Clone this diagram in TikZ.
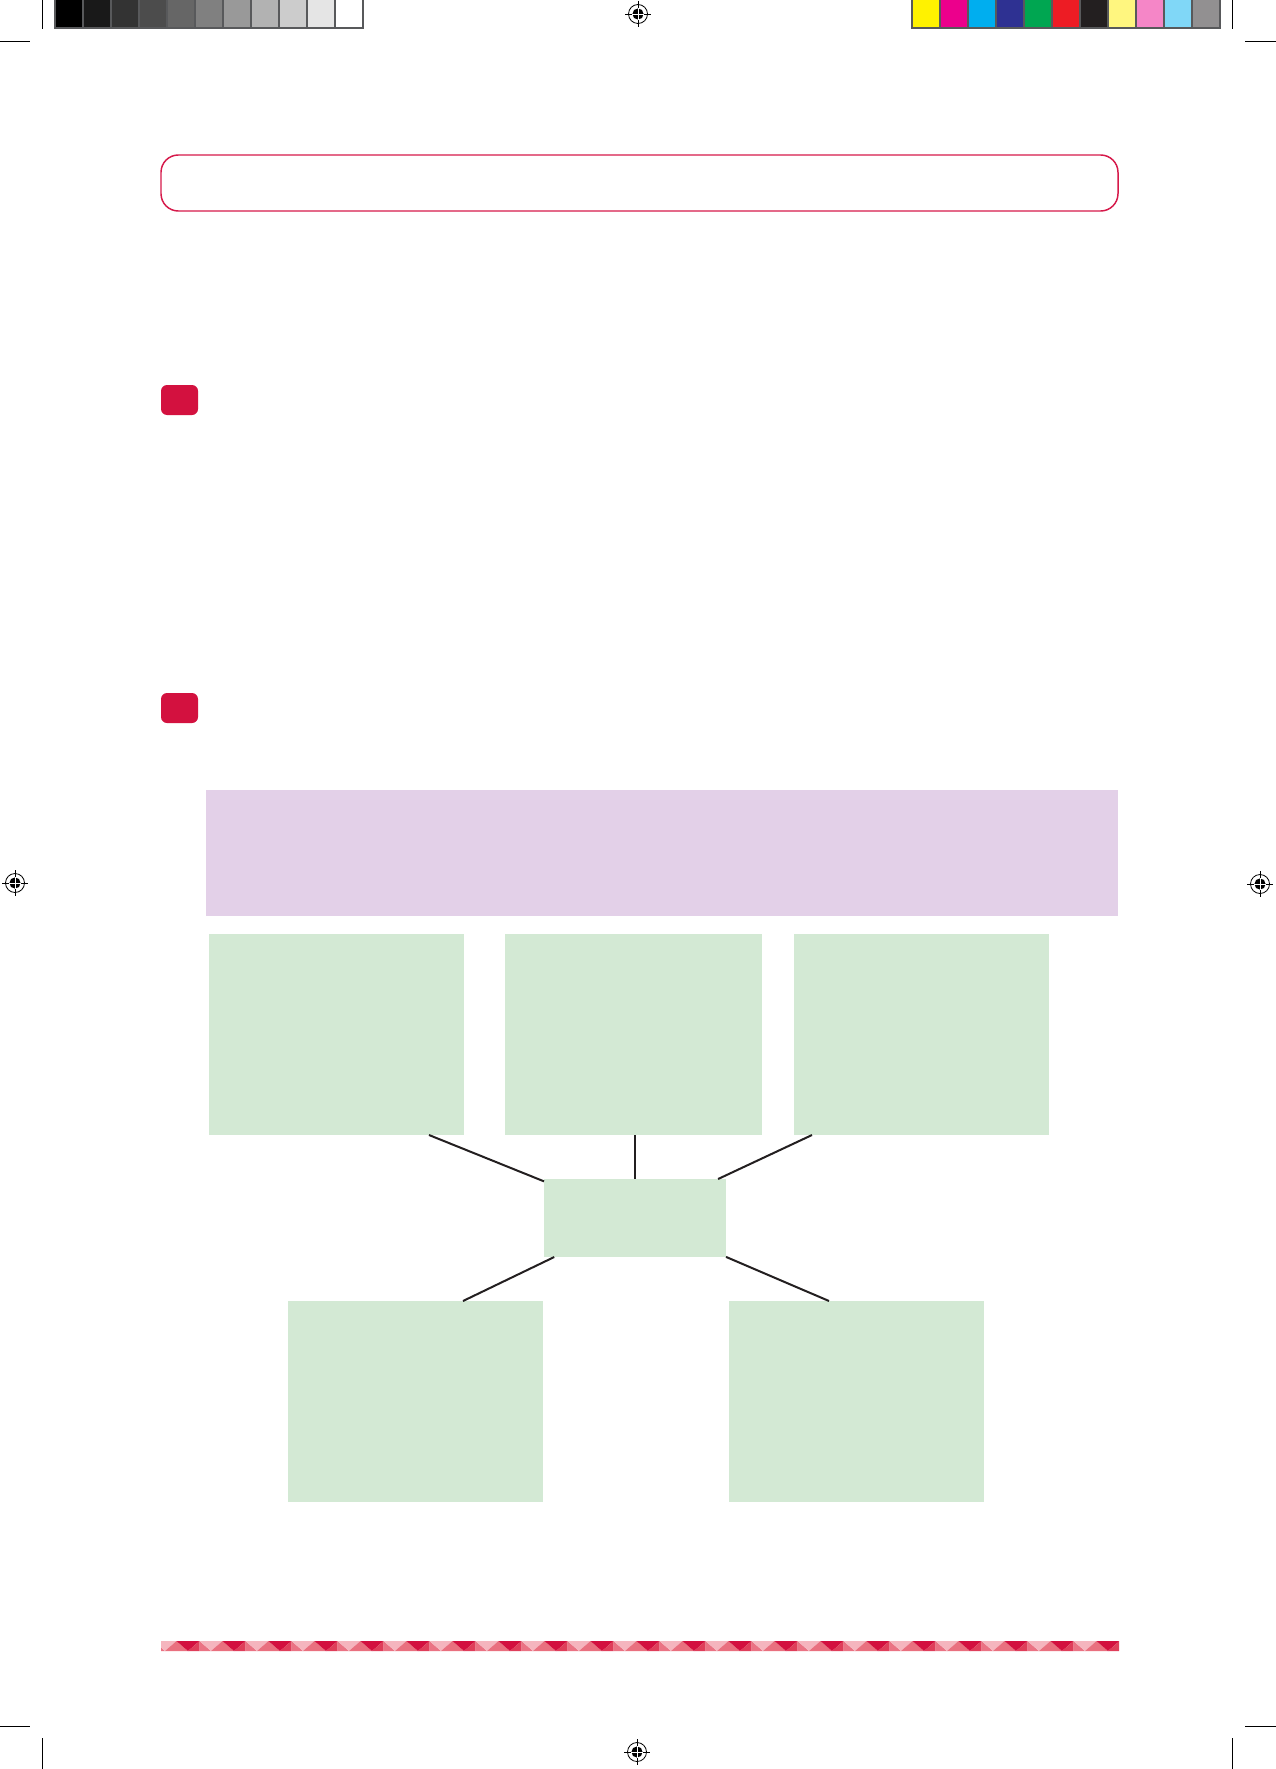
\documentclass[tikz,border=0pt]{standalone}
\usetikzlibrary{calc}
\definecolor{crim}{HTML}{D6194A}
\definecolor{crimfill}{HTML}{D3113F}
\definecolor{lgreen}{HTML}{D3E9D4}
\definecolor{lpurple}{HTML}{E3D0E8}
\definecolor{connc}{HTML}{231F20}
\definecolor{barframe}{HTML}{58595B}
\definecolor{zA}{HTML}{F5B5BE}
\definecolor{zB}{HTML}{E9707F}
\definecolor{zC}{HTML}{D3103F}
\definecolor{zD}{HTML}{DF3E5A}
\definecolor{zE}{HTML}{EA7384}
\tikzset{
  gbox/.style 2 args={fill=lgreen, draw=none, minimum width={#1*0.75pt}, minimum height={#2*0.75pt}, anchor=north west, inner sep=0pt, outer sep=0pt},
  conn/.style={draw=connc, line width=1.5pt},
  cropmark/.style={draw=black, line width=0.75pt},
  regmark/.pic={
    \draw[line width=0.6pt] (0,0) circle (9.5);
    \draw[line width=0.6pt] (-13,0) -- (13,0) (0,-13) -- (0,13);
    \fill[black] (0,0) circle (5.6);
    \draw[white, line width=0.5pt] (-5.6,0) -- (5.6,0) (0,-5.6) -- (0,5.6);
  }
}
\begin{document}
\begin{tikzpicture}[x=0.75pt,y=-0.75pt]
\useasboundingbox (0,0) rectangle (1276,1769);
\fill[white] (0,0) rectangle (1276,1769);

% crop marks
\draw[cropmark] (42,0) -- (42,29);
\draw[cropmark] (0,42) -- (30,42);
\draw[cropmark] (1232,0) -- (1232,29);
\draw[cropmark] (1245,42) -- (1276,42);
\draw[cropmark] (0,1726) -- (30,1726);
\draw[cropmark] (42,1738) -- (42,1769);
\draw[cropmark] (1245,1726) -- (1276,1726);
\draw[cropmark] (1232,1738) -- (1232,1769);

% gray bar
\fill[barframe] (54,0) rectangle (364,29.5);
\foreach \g [count=\i from 0] in {0,10,20,30,40,50,60,70,80,90,100}{
  \pgfmathsetmacro\gg{100-\g}
  \fill[black!\gg!white] ({55.5+\i*28.05},0) rectangle ({55.5+\i*28.05+26},27.5);
}
% colour bar
\fill[barframe] (911,0) rectangle (1221,29.5);
\foreach \c [count=\i from 0] in {FFF200,EC008C,00AEEF,2E3192,00A651,ED1C24,231F20,FFF67F,F586C7,80D7F7,929091}{
  \definecolor{tmpc}{HTML}{\c}
  \fill[tmpc] ({912.5+\i*28.05},0) rectangle ({912.5+\i*28.05+26},27.5);
}

% registration marks
\pic at (638,14) {regmark};
\pic at (15,883) {regmark};
\pic at (1260,884) {regmark};
\pic at (637,1752) {regmark};

% title frame
\draw[draw=crim, line width=1.1pt, rounded corners=13pt] (161,155) rectangle (1118,211);

% red markers
\fill[crimfill, rounded corners=4.5pt] (161,385) rectangle (198,415);
\fill[crimfill, rounded corners=4.5pt] (161,693) rectangle (198,723);

% purple band
\fill[lpurple] (206,790) rectangle (1118,916);

% boxes
\node[gbox={255}{201}] (b1) at (209,934) {};
\node[gbox={257}{201}] (b2) at (505,934) {};
\node[gbox={255}{201}] (b3) at (794,934) {};
\node[gbox={182}{78}] (c) at (544,1179) {};
\node[gbox={255}{201}] (b4) at (288,1301) {};
\node[gbox={255}{201}] (b5) at (729,1301) {};

% connector start points
\coordinate (s1) at (429,1135);
\coordinate (s2) at (635,1135);
\coordinate (s3) at (812,1135);
\coordinate (s4) at (463,1301);
\coordinate (s5) at (829,1301);
\draw[conn] (s1) -- (c);
\draw[conn] (s2) -- (s2 |- c.north);
\draw[conn] (s3) -- (c);
\draw[conn] (s4) -- (c);
\draw[conn] (s5) -- (c);

% zigzag strip
\begin{scope}
\clip (161,1641) rectangle (1119,1651);
\foreach \k in {-1,...,21}{
  \pgfmathsetmacro\xo{165+46*\k}
  \fill[zA] (\xo-11.5,1641) -- (\xo+11.5,1641) -- (\xo,1651) -- cycle;
  \fill[zB] (\xo,1651) -- (\xo+11.5,1641) -- (\xo+23,1651) -- cycle;
  \fill[zC] (\xo+11.5,1641) -- (\xo+34.5,1641) -- (\xo+23,1651) -- cycle;
  \fill[zD] (\xo+23,1651) -- (\xo+34.5,1641) -- (\xo+34.5,1651) -- cycle;
  \fill[zE] (\xo+34.5,1641) -- (\xo+46,1651) -- (\xo+34.5,1651) -- cycle;
}
\end{scope}
\end{tikzpicture}
\end{document}
